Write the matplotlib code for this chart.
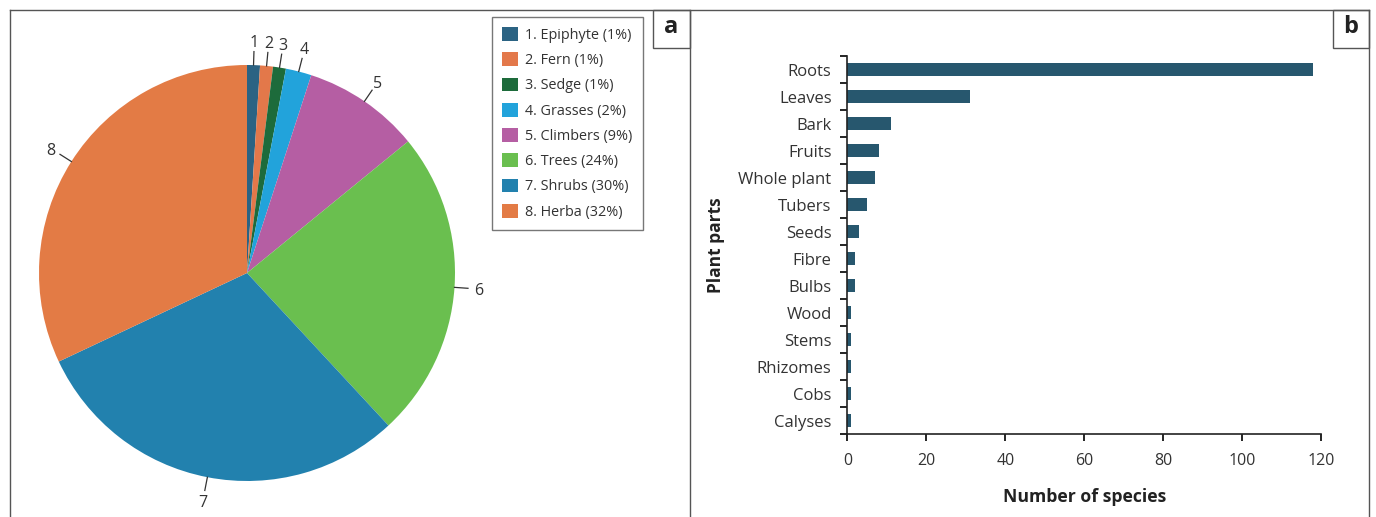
import numpy as np
import matplotlib
matplotlib.use("Agg")
import matplotlib.pyplot as plt
from matplotlib.patches import Patch, Rectangle
from matplotlib.lines import Line2D

# ── Data ──────────────────────────────────────────────────────────────────────
growth_forms = ["Epiphyte", "Fern", "Sedge", "Grasses", "Climbers", "Trees", "Shrubs", "Herba"]
growth_pct = [1.0, 1.0, 1.0, 2.0, 9.1, 24.0, 29.9, 32.0]
growth_labels = ["1. Epiphyte (1%)", "2. Fern (1%)", "3. Sedge (1%)", "4. Grasses (2%)",
                 "5. Climbers (9%)", "6. Trees (24%)", "7. Shrubs (30%)", "8. Herba (32%)"]
growth_colors = ["#2b6383", "#e3784a", "#1d6b3b", "#22a3db", "#b55ea3", "#6abf4f", "#2281ae", "#e37b45"]

plant_parts = ["Roots", "Leaves", "Bark", "Fruits", "Whole plant", "Tubers", "Seeds",
               "Fibre", "Bulbs", "Wood", "Stems", "Rhizomes", "Cobs", "Calyses"]
n_species = [118, 31, 11, 8, 7, 5, 3, 2, 2, 1, 1, 1, 1, 1]
x_ticks = [0, 20, 40, 60, 80, 100, 120]

BAR_COLOR = "#27576e"
TEXT = "#333333"
FRAME = "#555555"

plt.rcParams["font.family"] = ["Open Sans", "DejaVu Sans"]

W, H = 1376, 517
fig = plt.figure(figsize=(W / 100, H / 100), dpi=100)


def px_box(x0, y0, x1, y1):
    # pixel box (top-left origin) -> figure fraction [l, b, w, h]
    return [x0 / W, (H - y1) / H, (x1 - x0) / W, (y1 - y0) / H]


# ── Panel frames ──────────────────────────────────────────────────────────────
def fig_line(xs, ys):
    fig.add_artist(Line2D([x / W for x in xs], [(H - y) / H for y in ys],
                          color=FRAME, lw=1.0, transform=fig.transFigure))


fig_line([10, 1369], [10, 10])
fig_line([10, 10], [10, 517])
fig_line([690, 690], [10, 517])
fig_line([1369, 1369], [10, 517])
for (x0, x1), letter in [((653, 690), "a"), ((1333, 1369), "b")]:
    l, b, w, h = px_box(x0, 10, x1, 48)
    fig.add_artist(Rectangle((l, b), w, h, transform=fig.transFigure,
                             fill=False, edgecolor=FRAME, lw=1.0))
    fig.text(l + w / 2, b + h / 2 + 0.004, letter, ha="center", va="center",
             fontsize=17, fontweight="bold", color="#222222")

# ── Panel a: pie ──────────────────────────────────────────────────────────────
cx, cy, r = 247, 273, 208
ax1 = fig.add_axes(px_box(cx - r, cy - r, cx + r, cy + r))
wedges, _ = ax1.pie(growth_pct, colors=growth_colors, startangle=90, counterclock=False,
                    wedgeprops=dict(linewidth=0))
ax1.set_xlim(-1, 1)
ax1.set_ylim(-1, 1)
ax1.set_aspect("equal")
ax1.axis("off")

for i, wdg in enumerate(wedges):
    ang = np.deg2rad((wdg.theta1 + wdg.theta2) / 2)
    x, y = np.cos(ang), np.sin(ang)
    ax1.plot([1.0 * x, 1.065 * x], [1.0 * y, 1.065 * y], color=TEXT, lw=0.9, clip_on=False)
    ax1.text(1.115 * x, 1.115 * y, str(i + 1), ha="center", va="center_baseline",
             fontsize=11.5, color=TEXT, clip_on=False)

handles = [Patch(facecolor=c, edgecolor="none") for c in growth_colors]
leg = fig.legend(handles, growth_labels, loc="upper left",
                 bbox_to_anchor=(492 / W, 1 - 17 / H), fontsize=10.4,
                 frameon=True, fancybox=False, edgecolor=FRAME,
                 handlelength=1.1, handleheight=1.1, handletextpad=0.5,
                 labelspacing=0.65, borderpad=0.7, borderaxespad=0)
leg.get_frame().set_linewidth(1.0)
for t in leg.get_texts():
    t.set_color(TEXT)

# ── Panel b: horizontal bars ──────────────────────────────────────────────────
ax2 = fig.add_axes(px_box(847.5, 56, 1321, 434))
ypos = np.arange(len(plant_parts))
ax2.barh(ypos, n_species, height=0.5, color=BAR_COLOR)
ax2.set_ylim(len(plant_parts) - 0.5, -0.5)
ax2.set_xlim(0, 120)
ax2.set_xticks(x_ticks)
ax2.set_yticks(np.arange(-0.5, len(plant_parts)), labels=[])
ax2.set_yticks(ypos, labels=plant_parts, minor=True)
ax2.tick_params(axis="y", which="major", length=5, width=1.2, direction="out")
ax2.tick_params(axis="y", which="minor", length=0, pad=11.5, labelsize=12, labelcolor=TEXT)
ax2.tick_params(axis="x", length=5, width=1.2, direction="out", labelsize=11.5,
                labelcolor=TEXT, pad=8.5)
for s in ["top", "right"]:
    ax2.spines[s].set_visible(False)
for s in ["left", "bottom"]:
    ax2.spines[s].set_linewidth(1.2)
    ax2.spines[s].set_color("#222222")
ax2.set_xlabel("Number of species", fontsize=12.7, fontweight="bold", color="#222222", labelpad=14)
ax2.set_ylabel("Plant parts", fontsize=12.5, fontweight="bold", color="#222222", labelpad=10)

fig.savefig("out.png", dpi=100)
